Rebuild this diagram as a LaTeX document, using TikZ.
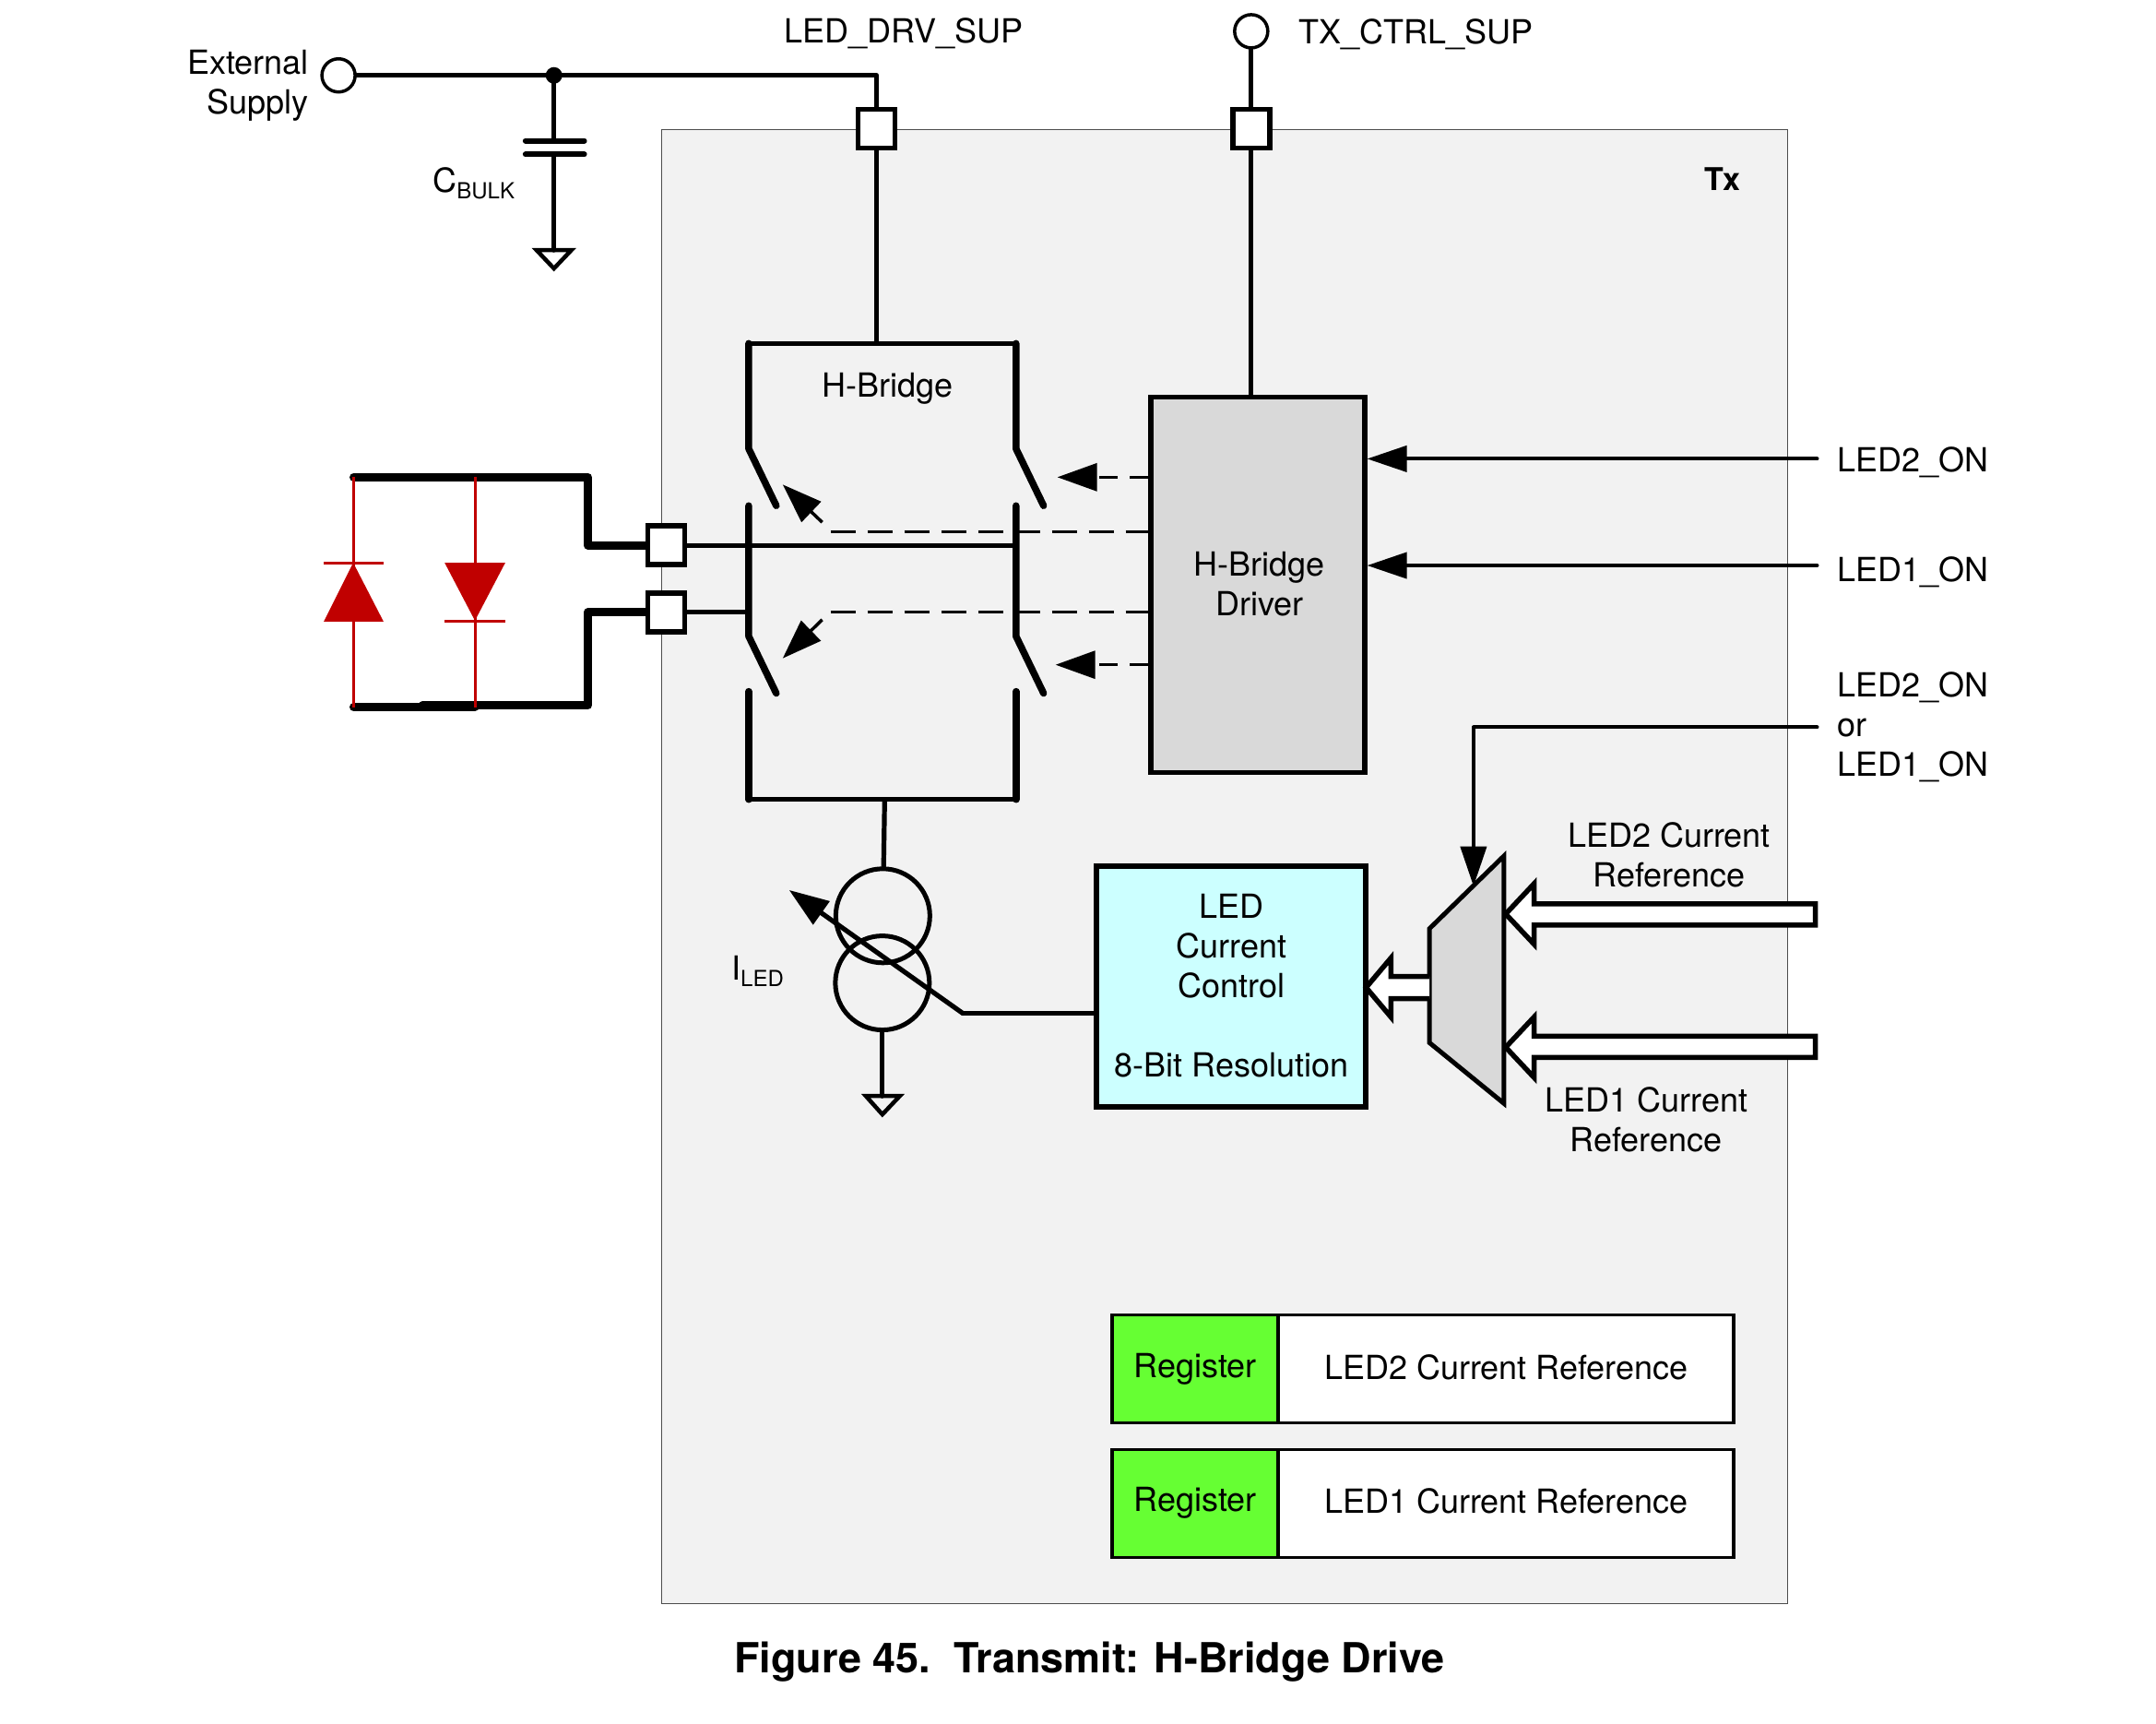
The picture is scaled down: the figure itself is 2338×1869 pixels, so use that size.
\documentclass[tikz,border=0pt]{standalone}
\usepackage{fontspec}
\setmainfont{TeX Gyre Heros}
\usetikzlibrary{arrows.meta,calc}
\definecolor{txgray}{HTML}{F2F2F2}
\definecolor{blockgray}{HTML}{D9D9D9}
\definecolor{ctrlcyan}{HTML}{CCFFFF}
\definecolor{reggreen}{HTML}{66FF33}
\definecolor{ledred}{HTML}{C00000}
\newcommand{\subtxt}[1]{\raisebox{-7pt}{\fontsize{24}{24}\selectfont #1}}
\tikzset{
  lbl/.style={font=\fontsize{36}{43}\selectfont, inner sep=0pt, align=center},
  wire/.style={line width=5.2pt, line cap=round, line join=round},
  finewire/.style={line width=4pt, line cap=round, line join=round},
  thickwire/.style={line width=9pt, line cap=round, line join=round},
  sw/.style={line width=7.5pt, line cap=round, line join=round},
  dashwire/.style={line width=3.2pt, dash pattern=on 27pt off 13pt},
  pin/.style={draw, line width=5.5pt, fill=white, minimum width=40pt, minimum height=42pt, inner sep=0pt},
  term/.style={draw, circle, line width=3.5pt, fill=white, minimum size=36pt, inner sep=0pt},
  src/.style={draw, circle, line width=5pt, minimum size=102pt, inner sep=0pt},
  blockbox/.style={draw, line width=5.5pt, inner sep=0pt, align=center, font=\fontsize{36}{43}\selectfont},
  regbox/.style={draw, line width=3.5pt, inner sep=0pt, font=\fontsize{36}{43}\selectfont},
  gnd/.style={line width=4.5pt, line join=miter},
  tip/.style={-{Triangle[length=43pt,width=28pt]}},
  smalltip/.style={-{Triangle[length=43pt,width=30pt]}},
  hollow/.style={draw, line width=5.5pt, fill=white, line join=miter},
  diodewire/.style={ledred, line width=3pt},
}
\begin{document}
\begin{tikzpicture}[x=0.9962pt,y=-0.9968pt]
\useasboundingbox (0pt,0pt) rectangle (2338pt,-1869pt);
% Tx block
\node[draw=black!70, line width=1.2pt, fill=txgray, minimum width=1221pt, minimum height=1598pt, inner sep=0pt, anchor=north west] (tx) at (720,140.5) {};
\node[lbl, font=\bfseries\fontsize{34}{40}\selectfont] (txl) at (1875,195) {Tx};
% supply side
\node[term] (ext) at (368.5,82) {};
\node[lbl, align=right, anchor=east] (extl) at (336,93) {External\\Supply};
\node[circle, fill=black, minimum size=18pt, inner sep=0pt] (junc) at (603,82) {};
\node[pin] (pa) at (954,140) {};
\node[pin] (pb) at (1362,140) {};
\node[term] (tc) at (1362,34) {};
\node[lbl] (drvl) at (984,36) {LED\_DRV\_SUP};
\node[lbl, anchor=west] (ctrll) at (1414,37) {TX\_CTRL\_SUP};
\draw[wire] (ext) -- (junc);
\draw[wire] (junc.center) -| (pa.north);
\draw[wire] (tc) -- (pb);
% capacitor and ground
\coordinate (cp1) at (603,153);
\coordinate (cp2) at (603,168);
\draw[wire] (junc.center) -- (cp1);
\draw[line width=6pt, line cap=round] (572,153) -- (636,153);
\draw[line width=6pt, line cap=round] (572,168) -- (636,168);
\coordinate (g1) at (603,272);
\draw[wire] (cp2) -- (g1);
\draw[gnd] (584,272) -- (622,272) -- (603,292) -- cycle;
\node[lbl, anchor=west] (cb) at (471,199) {C\subtxt{BULK}};
% H-bridge
\coordinate (hl) at (815,373.5);
\coordinate (hr) at (1106,373.5);
\coordinate (hbl) at (815,869.5);
\coordinate (hbr) at (1106,869.5);
\coordinate (hm) at (954,373.5);
\coordinate (hbm) at (963,869.5);
\draw[wire] (hl) -- (hr);
\draw[wire] (hbl) -- (hbr);
\draw[wire] (pa) -- (hm);
\foreach \cx in {815,1106} {
  \draw[sw] (\cx,373.5) -- (\cx,488) -- (\cx+30,550);
  \draw[sw] (\cx,550) -- (\cx,692) -- (\cx+30,754);
  \draw[sw] (\cx,752) -- (\cx,869.5);
}
\node[lbl] (hbt) at (966,423) {H-Bridge};
% driver
\node[blockbox, fill=blockgray, minimum width=232pt, minimum height=407pt] (drv) at (1369,636) {};
\node[lbl] (drvt) at (1371,635) {H-Bridge\\Driver};
\draw[wire] (pb) -- (drv.north -| pb);
% pins and load wires
\node[pin] (p1) at (725,593) {};
\node[pin] (p2) at (725,666) {};
\draw[wire] (p1) -- (1106,593);
\draw[wire] (p2) -- (815,666);
\coordinate (lt) at (385,519);
\coordinate (lb) at (385,769);
\coordinate (rt) at (517,519);
\coordinate (rb) at (517,769);
\draw[thickwire] (lt) -- (640,519) |- (p1.west);
\draw[thickwire] (lb) -- (rb);
\draw[thickwire] (460,767) -- (640,767) |- (p2.west);
% LEDs
\draw[diodewire] (lt) -- (lb);
\draw[diodewire] (rt) -- (rb);
\fill[ledred] (384.5,612) -- (417.5,676) -- (352.5,676) -- cycle;
\draw[diodewire] (352.5,612) -- (417.5,612);
\fill[ledred] (484,612) -- (550,612) -- (517,675) -- cycle;
\draw[diodewire] (484,676) -- (550,676);
% dashed control
\coordinate (d1) at (904,578);
\coordinate (d2) at (904,666);
\draw[dashwire] (d1) -- (1250,578);
\draw[dashwire] (d2) -- (1250,666);
\draw[line width=3.5pt, smalltip] (895,568) -- (852,527);
\draw[line width=3.5pt, smalltip] (895,674) -- (852,716);
\draw[line width=3.2pt, dash pattern=on 20pt off 13pt, smalltip] (drv.west |- 0,519) -- (1151,519);
\draw[line width=3.2pt, dash pattern=on 20pt off 13pt, smalltip] (drv.west |- 0,723) -- (1149,723);
% inputs
\coordinate (i2) at (1978,499);
\coordinate (i1) at (1978,615);
\coordinate (is) at (1978,791);
\draw[finewire, tip] (i2) -- (drv.east |- i2);
\draw[finewire, tip] (i1) -- (drv.east |- i1);
\node[lbl, anchor=west] (l2) at (2000,503) {LED2\_ON};
\node[lbl, anchor=west] (l1) at (2000,622) {LED1\_ON};
\node[lbl, anchor=west, align=left] (ls) at (2000,791) {LED2\_ON\\or\\LED1\_ON};
% mux
\draw[line width=5pt, fill=blockgray, line join=miter] (1556,1010) -- (1637,931) -- (1637,1200) -- (1556,1134) -- cycle;
\node[inner sep=0pt, minimum size=0pt] (muxtop) at (1604,964) {};
\draw[finewire, tip] (is) -| (muxtop);
% current control
\node[blockbox, fill=ctrlcyan, minimum width=292pt, minimum height=261pt] (ctl) at (1340,1073) {};
\node[lbl] (ctlt) at (1340.5,1029) {LED\\Current\\Control};
\node[lbl] (ctlb) at (1340.5,1158) {8-Bit Resolution};
% hollow arrows
\draw[hollow] (1556,1062) -- (1514,1062) -- (1514,1042) -- (1487,1074) -- (1514,1106) -- (1514,1086) -- (1556,1086);
\draw[hollow] (1976,983) -- (1670,983) -- (1670,961) -- (1639,994) -- (1670,1027) -- (1670,1006) -- (1976,1006) -- cycle;
\draw[hollow] (1976,1127) -- (1670,1127) -- (1670,1106) -- (1639,1139) -- (1670,1172) -- (1670,1150) -- (1976,1150) -- cycle;
\node[lbl] (r2) at (1817,930) {LED2 Current\\Reference};
\node[lbl] (r1) at (1792,1218) {LED1 Current\\Reference};
% current source
\node[src] (s1) at (961,996) {};
\node[src] (s2) at (960.5,1069) {};
\draw[wire] (hbm) -- (s1);
\coordinate (g2) at (960.5,1192);
\draw[wire] (s2) -- (g2);
\draw[gnd] (942.5,1192) -- (979.5,1192) -- (960.5,1212) -- cycle;
\coordinate (ad) at (1048,1102);
\draw[wire] (ctl.west |- ad) -- (ad);
\draw[wire, smalltip] (ad) -- (859,968);
\node[lbl, anchor=west] (il) at (796,1056) {I\subtxt{LED}};
% registers
\node[regbox, fill=white, minimum width=674pt, minimum height=117pt] (r2b) at (1549,1489) {};
\node[regbox, fill=white, minimum width=674pt, minimum height=117pt] (r1b) at (1549,1635) {};
\node[regbox, fill=reggreen, minimum width=180pt, minimum height=117pt] (g2b) at (1301,1489) {Register};
\node[regbox, fill=reggreen, minimum width=180pt, minimum height=117pt] (g1b) at (1301,1635) {Register};
\node[lbl] (r2t) at (1639.5,1487) {LED2 Current Reference};
\node[lbl] (r1t) at (1639.5,1633) {LED1 Current Reference};
% caption
\node[lbl, font=\bfseries\fontsize{45}{54}\selectfont] (cap) at (1186,1807.5) {Figure 45.\ \ Transmit: H-Bridge Drive};
\end{tikzpicture}
\end{document}
